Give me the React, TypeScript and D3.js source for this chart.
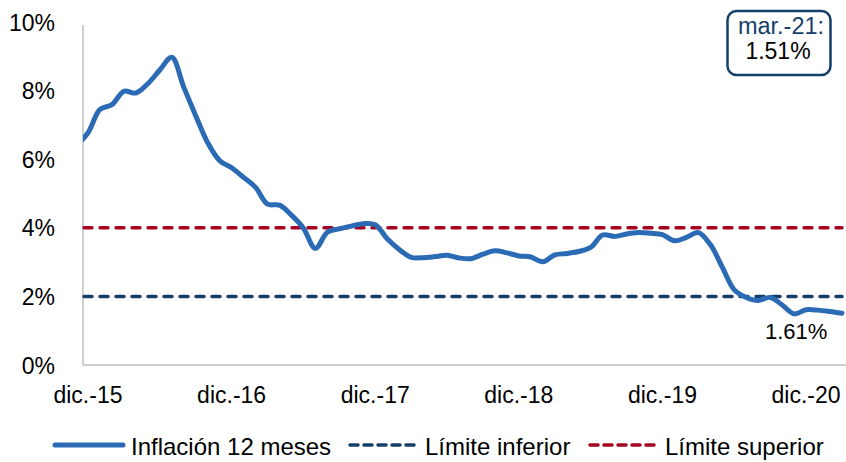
import React from "react";
import * as d3 from "d3";

const months = [
  "nov.-15",
  "dic.-15","ene.-16","feb.-16","mar.-16","abr.-16","may.-16","jun.-16","jul.-16","ago.-16","sep.-16","oct.-16","nov.-16",
  "dic.-16","ene.-17","feb.-17","mar.-17","abr.-17","may.-17","jun.-17","jul.-17","ago.-17","sep.-17","oct.-17","nov.-17",
  "dic.-17","ene.-18","feb.-18","mar.-18","abr.-18","may.-18","jun.-18","jul.-18","ago.-18","sep.-18","oct.-18","nov.-18",
  "dic.-18","ene.-19","feb.-19","mar.-19","abr.-19","may.-19","jun.-19","jul.-19","ago.-19","sep.-19","oct.-19","nov.-19",
  "dic.-19","ene.-20","feb.-20","mar.-20","abr.-20","may.-20","jun.-20","jul.-20","ago.-20","sep.-20","oct.-20","nov.-20",
  "dic.-20","ene.-21","feb.-21","mar.-21",
];

const inflation = [
  6.39,
  6.77, 7.45, 7.59, 7.98, 7.93, 8.2, 8.6, 8.97, 8.1, 7.27, 6.48, 5.96,
  5.75, 5.47, 5.18, 4.69, 4.66, 4.37, 3.99, 3.4, 3.87, 3.97, 4.05, 4.12,
  4.09, 3.68, 3.37, 3.14, 3.13, 3.16, 3.2, 3.12, 3.1, 3.23, 3.33, 3.27,
  3.18, 3.15, 3.01, 3.21, 3.25, 3.31, 3.43, 3.79, 3.75, 3.82, 3.86, 3.84,
  3.8, 3.62, 3.72, 3.86, 3.51, 2.85, 2.19, 1.97, 1.88, 1.97, 1.75, 1.49,
  1.61, 1.6, 1.56, 1.51,
];

const lowerLimit = 2;
const upperLimit = 4;
const yTicks = [0, 2, 4, 6, 8, 10];
const xTickLabels = ["dic.-15", "dic.-16", "dic.-17", "dic.-18", "dic.-19", "dic.-20"];
const legendLabels = ["Inflación 12 meses", "Límite inferior", "Límite superior"];
const lastLabel = "mar.-21:";
const lastValueText = "1.51%";
const decLabelText = "1.61%";

const W = 846;
const H = 462;
const FONT = "'Liberation Sans', Arial, sans-serif";
const BLUE = "#2B6AB4";
const NAVY = "#153F6B";
const RED = "#A50021";
const GRAY = "#BFBFBF";

export default function App() {
  const first = months.indexOf("dic.-15");
  const lastIdx = months.length - 1;
  const x = d3.scaleLinear().domain([first, lastIdx]).range([88, 842]);
  const y = d3.scaleLinear().domain([0, 10]).range([365, 22]);
  const x0 = 83;
  const line = d3
    .line<number>()
    .x((_, i) => x(i))
    .y((d) => y(d))
    .curve(d3.curveCatmullRom.alpha(0.5));

  const decIdx = months.indexOf("dic.-20");

  return (
    <svg
      width={W}
      height={H}
      style={{ position: "absolute", left: 0, top: 0, background: "#fff" }}
      fontFamily={FONT}
    >
      <defs>
        <clipPath id="plot">
          <rect x={x0} y={0} width={W - x0} height={y(0)} />
        </clipPath>
      </defs>
      {/* axes */}
      <line x1={x0} x2={x0} y1={y(10) + 3} y2={y(0)} stroke={GRAY} strokeWidth={1.5} />
      <line x1={x0} x2={W} y1={y(0)} y2={y(0)} stroke={GRAY} strokeWidth={1.5} />

      {yTicks.map((t) => (
        <text key={t} x={55} y={y(t) + 8.5} textAnchor="end" fontSize={23} fill="#000">
          {t}%
        </text>
      ))}
      {xTickLabels.map((lab) => (
        <text key={lab} x={x(months.indexOf(lab))} y={403} textAnchor="middle" fontSize={23} fill="#000">
          {lab}
        </text>
      ))}

      {/* limits */}
      <line x1={x0 + 1} x2={x(lastIdx)} y1={y(upperLimit)} y2={y(upperLimit)} stroke={RED} strokeWidth={3.5} strokeDasharray="8 8" strokeLinecap="round" />
      <line x1={x0 + 1} x2={x(lastIdx)} y1={y(lowerLimit)} y2={y(lowerLimit)} stroke={NAVY} strokeWidth={3.5} strokeDasharray="8 8" strokeLinecap="round" />

      {/* inflation line */}
      <g clipPath="url(#plot)">
        <path d={line(inflation) || ""} fill="none" stroke={BLUE} strokeWidth={5} strokeLinejoin="round" strokeLinecap="round" />
      </g>

      {/* data label dic-20 */}
      <text x={x(decIdx) - 10} y={339} textAnchor="middle" fontSize={22} fill="#000">
        {decLabelText}
      </text>

      {/* callout box */}
      <rect x={727.5} y={11} width={103} height={64} rx={9} ry={9} fill="#fff" stroke={NAVY} strokeWidth={2.5} />
      <text x={781} y={33.5} textAnchor="middle" fontSize={23.5} fill={NAVY}>
        {lastLabel}
      </text>
      <text x={778} y={58.5} textAnchor="middle" fontSize={23} fill="#000">
        {lastValueText}
      </text>

      {/* legend */}
      <line x1={55} x2={123} y1={445} y2={445} stroke={BLUE} strokeWidth={5} strokeLinecap="round" />
      <text x={131} y={455} fontSize={24} fill="#000">{legendLabels[0]}</text>
      <line x1={350} x2={418} y1={445} y2={445} stroke={NAVY} strokeWidth={3.5} strokeDasharray="8 6" strokeLinecap="round" />
      <text x={425} y={455} fontSize={24} fill="#000">{legendLabels[1]}</text>
      <line x1={590} x2={658} y1={445} y2={445} stroke={RED} strokeWidth={3.5} strokeDasharray="8 6" strokeLinecap="round" />
      <text x={665} y={455} fontSize={24} fill="#000">{legendLabels[2]}</text>
    </svg>
  );
}
